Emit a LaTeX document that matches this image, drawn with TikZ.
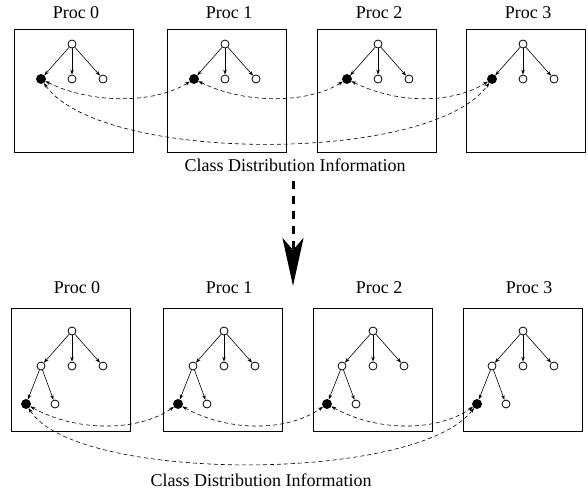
\documentclass[tikz,border=0pt]{standalone}
\usepackage{fontspec}
\setmainfont{Liberation Serif}
\usetikzlibrary{arrows.meta}

\tikzset{
  vert/.style={circle,draw,line width=0.8pt,inner sep=0pt,minimum size=8pt},
  cls/.style={vert,fill=black,minimum size=9pt},
  procbox/.style={draw,line width=0.9pt},
  edge/.style={line width=0.6pt,-{Stealth[length=5pt,width=3.5pt]}},
  share/.style={line width=0.6pt,dash pattern=on 4pt off 3pt,
    {Stealth[length=5pt,width=3.5pt]}-{Stealth[length=5pt,width=3.5pt]}}
}

\begin{document}
\begin{tikzpicture}[x=1pt,y=-1pt,font=\fontsize{18}{22}\selectfont]
  \useasboundingbox (0,0) rectangle (588,493);
  %% before: one level under the root
  \foreach \i/\l/\r in {0/14/72,1/167/225,2/317/378,3/466/523} {
    \draw[procbox] (\l,29) rectangle ++(119,123);
    \node (lt\i) at (\l+62,13) {Proc \i};
    \node[vert] (t\i) at (\r,44) {};
    \node[cls] (ta\i) at (\r-31,79) {};
    \node[vert] (tb\i) at (\r,79) {};
    \node[vert] (tc\i) at (\r+31,79) {};
    \draw[edge] (t\i) -- (ta\i);
    \draw[edge] (t\i) -- (tb\i);
    \draw[edge] (t\i) -- (tc\i);
  }
  \draw[share] (ta0) .. controls +(50,25) and +(-40,25) .. (ta1);
  \draw[share] (ta1) .. controls +(50,25) and +(-40,25) .. (ta2);
  \draw[share] (ta2) .. controls +(50,25) and +(-40,25) .. (ta3);
  \draw[share] (ta0) .. controls +(60,85) and +(-60,85) .. (ta3);
  \node (infotop) at (295,165) {Class Distribution Information};

  %% big dashed arrow
  \coordinate (from) at (293,181);
  \coordinate (to) at (293,286);
  \draw[line width=3pt,dash pattern=on 8pt off 7pt,
    -{Stealth[length=48pt,width=21pt,inset=12pt]}] (from) -- (to);

  %% after: class node moved one level down
  \foreach \i/\l/\r in {0/11/72,1/163/224,2/313/373,3/463/523} {
    \draw[procbox] (\l,308) rectangle ++(119,123);
    \node (lb\i) at (\l+66,288) {Proc \i};
    \node[vert] (b\i) at (\r,331) {};
    \node[vert] (ba\i) at (\r-31,366) {};
    \node[vert] (bb\i) at (\r,366) {};
    \node[vert] (bc\i) at (\r+31,366) {};
    \node[cls] (bd\i) at (\r-46,404) {};
    \node[vert] (be\i) at (\r-17,404) {};
    \draw[edge] (b\i) -- (ba\i);
    \draw[edge] (b\i) -- (bb\i);
    \draw[edge] (b\i) -- (bc\i);
    \draw[edge] (ba\i) -- (bd\i);
    \draw[edge] (ba\i) -- (be\i);
  }
  \draw[share] (bd0) .. controls +(50,28) and +(-40,28) .. (bd1);
  \draw[share] (bd1) .. controls +(50,28) and +(-40,28) .. (bd2);
  \draw[share] (bd2) .. controls +(50,28) and +(-40,28) .. (bd3);
  \draw[share] (bd0) .. controls +(50,79) and +(-60,79) .. (bd3);
  \node (infobot) at (261,480) {Class Distribution Information};
\end{tikzpicture}
\end{document}
